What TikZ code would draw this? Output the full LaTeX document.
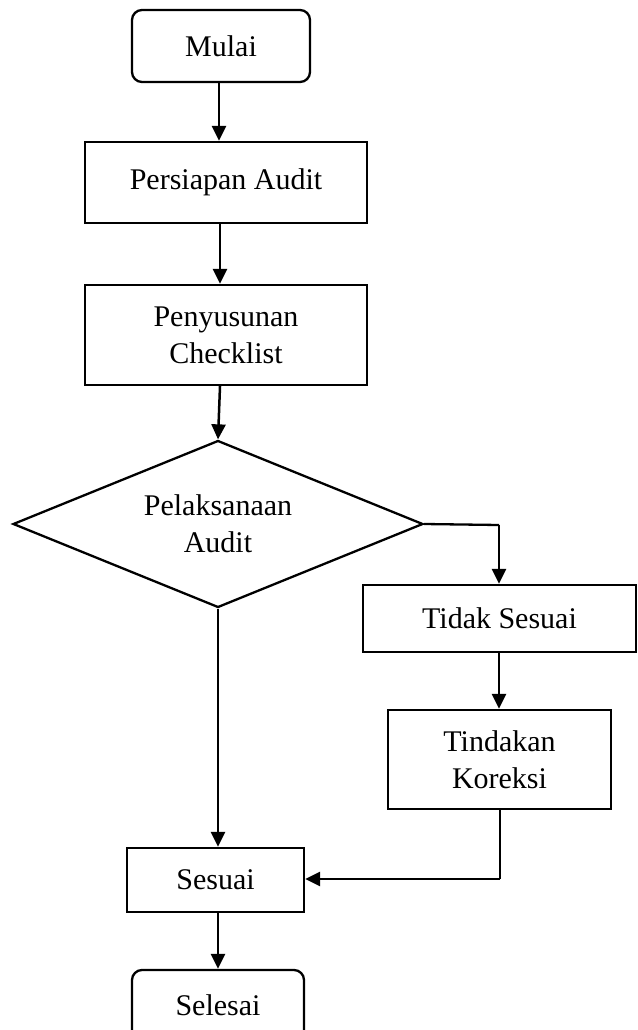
\documentclass[tikz,border=0pt]{standalone}
\usepackage{fontspec}
\setmainfont{Liberation Serif}
\usetikzlibrary{shapes.geometric,arrows.meta}
\begin{document}
\begin{tikzpicture}[x=1pt,y=-1pt,
  every node/.style={font=\fontsize{30}{37}\selectfont, align=center, inner sep=0pt},
  box/.style={draw, line width=2.3pt, minimum width=#1},
  rbox/.style={draw, line width=2.3pt, rounded corners=10pt, minimum width=#1},
  arr/.style={line width=2.5pt, -{Triangle[length=15pt,width=14pt]}},
  ln/.style={line width=2.3pt}]
\useasboundingbox (0,0) rectangle (637,1030);
\node[rbox=178pt, minimum height=72pt] (mulai) at (221,46) {Mulai};
\node[box=282pt, minimum height=81pt] (pers) at (226,182.5) {Persiapan Audit};
\node[box=282pt, minimum height=100pt] (peny) at (226,335) {Penyusunan\\Checklist};
\node[draw, line width=2.3pt, diamond, aspect=2.45, minimum width=410pt, minimum height=167pt] (dia) at (218,524) {Pelaksanaan\\Audit};
\node[box=273pt, minimum height=67pt] (tidak) at (499.5,618.5) {Tidak Sesuai};
\node[box=223pt, minimum height=99pt] (tind) at (499.5,759.5) {Tindakan\\Koreksi};
\node[box=177pt, minimum height=64pt] (ses) at (215.5,880) {Sesuai};
\node[rbox=172pt, minimum height=70pt] (sel) at (218,1005) {Selesai};
\coordinate (c1) at (499,525);
\coordinate (c2) at (500,879);
\draw[arr] (mulai.south -| 219,0) -- (pers.north -| 219,0);
\draw[arr] (pers.south -| 220,0) -- (peny.north -| 220,0);
\draw[arr] (peny.south -| 220,0) -- (dia.north);
\draw[ln] (dia.east) -- (c1);
\draw[arr] (c1) -- (tidak.north -| c1);
\draw[arr] (tidak.south -| c1) -- (tind.north -| c1);
\draw[arr] (dia.south) -- (ses.north -| 218,0);
\draw[ln] (tind.south -| c2) -- (c2);
\draw[arr] (c2) -- (ses.east |- c2);
\draw[arr] (ses.south -| 218,0) -- (sel.north -| 218,0);
\end{tikzpicture}
\end{document}
